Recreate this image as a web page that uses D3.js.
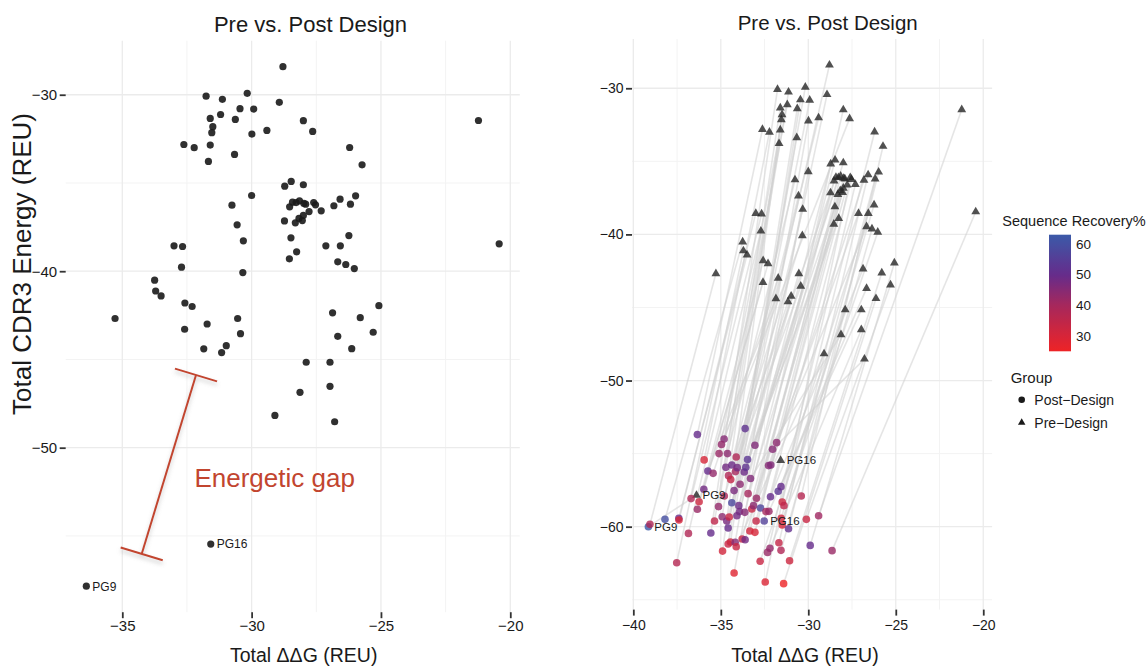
<!DOCTYPE html>
<html>
<head>
<meta charset="utf-8">
<script src="https://cdn.jsdelivr.net/npm/d3@7"></script>
<style>
  html, body { margin: 0; padding: 0; background: #fff; }
  svg { display: block; }
  text { font-family: "Liberation Sans", Arial, Helvetica, sans-serif; fill: #1a1a1a; }
</style>
</head>
<body>
<svg id="chart" width="1148" height="671"></svg>
<script>
// ---- Data -----------------------------------------------------------------
// Pre-design models: total ΔΔG and total CDR3 energy (REU)
const preDDG = [
  -36.39, -35.28, -33.75, -33.71, -33.50, -33.00, -32.71, -32.67, -32.62, -32.59,
  -32.58, -32.30, -32.22, -31.85, -31.76, -31.72, -31.67, -31.60, -31.60, -31.58,
  -31.54, -31.50, -31.20, -31.16, -31.13, -30.98, -30.76, -30.66, -30.63, -30.56,
  -30.54, -30.45, -30.43, -30.34, -30.32, -30.17, -30.00, -29.99, -29.92, -29.41,
  -29.10, -28.93, -28.79, -28.73, -28.72, -28.54, -28.53, -28.48, -28.47, -28.42,
  -28.31, -28.28, -28.26, -28.17, -28.15, -28.13, -28.04, -28.00, -28.00, -28.00,
  -27.98, -27.91, -27.89, -27.78, -27.64, -27.60, -27.53, -27.31, -27.13, -26.97,
  -26.97, -26.87, -26.82, -26.79, -26.67, -26.67, -26.58, -26.57, -26.36, -26.24,
  -26.21, -26.18, -26.13, -26.03, -25.98, -25.80, -25.73, -25.30, -25.08, -21.23,
  -20.43
];
const preCDR3 = [
  -57.85, -42.68, -40.51, -41.12, -41.40, -38.56, -39.77, -38.60, -32.82, -43.29,
  -41.80, -42.00, -33.00, -44.40, -30.08, -42.99, -33.78, -31.34, -32.85, -55.46,
  -32.15, -31.81, -31.12, -44.61, -30.26, -44.22, -36.26, -33.38, -31.40, -37.37,
  -42.68, -30.79, -43.54, -40.08, -38.28, -29.92, -35.71, -32.23, -30.81, -32.02,
  -48.17, -30.43, -28.41, -37.15, -35.18, -39.30, -36.35, -38.11, -34.91, -36.09,
  -37.26, -36.11, -38.90, -37.01, -36.01, -46.86, -37.13, -31.47, -35.10, -36.84,
  -36.16, -36.20, -45.16, -36.62, -32.08, -36.11, -36.24, -36.58, -38.56, -45.16,
  -46.52, -42.36, -36.29, -48.53, -39.47, -43.69, -35.92, -38.56, -39.62, -37.98,
  -32.99, -36.20, -44.39, -39.85, -35.73, -42.63, -33.97, -43.46, -41.95, -31.46,
  -38.45
];
// Post-design models, in the same order as the pre-design arrays
const postDDG = [
  -39.14, -39.05, -38.19, -37.52, -37.40, -37.39, -36.85, -36.70, -36.34, -36.34,
  -36.24, -35.97, -35.95, -35.74, -35.57, -35.44, -35.36, -35.13, -35.10, -32.52,
  -34.92, -34.90, -34.81, -34.80, -34.71, -34.66, -34.62, -34.58, -34.58, -34.56,
  -34.52, -34.45, -34.43, -34.37, -34.37, -34.24, -34.24, -34.18, -34.16, -34.12,
  -34.12, -34.08, -34.06, -33.97, -33.93, -33.90, -33.78, -33.66, -33.63, -33.61,
  -33.61, -33.57, -33.47, -33.44, -33.34, -33.30, -33.23, -33.13, -33.05, -33.05,
  -32.98, -32.96, -32.75, -32.73, -34.96, -32.46, -32.42, -32.33, -32.27, -32.25,
  -32.19, -32.16, -32.14, -32.04, -31.81, -31.72, -31.68, -31.56, -31.56, -31.55,
  -31.49, -31.49, -31.41, -31.39, -31.13, -31.07, -30.40, -30.11, -29.89, -29.41,
  -28.64
];
const postCDR3 = [
  -60.00, -59.84, -59.50, -62.47, -59.43, -59.54, -60.46, -58.08, -53.70, -58.81,
  -58.29, -57.44, -55.43, -56.19, -60.43, -56.35, -59.61, -58.63, -55.00, -59.61,
  -59.32, -61.67, -54.00, -57.90, -55.94, -59.61, -55.00, -60.09, -61.19, -56.51,
  -59.34, -61.05, -56.78, -55.78, -58.36, -57.53, -63.17, -61.07, -56.23, -55.23,
  -61.37, -59.25, -55.96, -58.56, -58.97, -57.10, -60.84, -56.26, -59.02, -53.29,
  -60.89, -55.94, -55.41, -57.74, -60.30, -56.70, -58.79, -58.56, -54.43, -60.39,
  -59.61, -58.06, -62.37, -58.72, -54.38, -63.79, -58.97, -61.76, -55.82, -58.95,
  -61.48, -57.95, -55.78, -54.70, -54.25, -57.58, -61.10, -57.26, -61.62, -59.43,
  -58.31, -59.89, -63.90, -58.56, -60.14, -62.33, -57.90, -59.50, -61.28, -59.25,
  -61.64
];
// Sequence recovery (%) of each post-design model
const postRecovery = [
  63, 38, 60, 37, 50, 30, 38, 38, 50, 42,
  32, 48, 30, 50, 50, 43, 35, 43, 42, 56,
  44, 31, 45, 39, 48, 47, 44, 50, 33, 38,
  33, 32, 34, 49, 58, 47, 28, 45, 40, 38,
  33, 48, 48, 49, 48, 44, 33, 49, 45, 52,
  48, 52, 53, 40, 31, 46, 33, 44, 46, 30,
  34, 42, 33, 57, 43, 29, 40, 42, 45, 42,
  43, 50, 46, 45, 44, 53, 34, 50, 38, 31,
  32, 30, 25, 35, 51, 32, 37, 33, 50, 41,
  42
];
// Named reference antibodies (blank for the rest)
const designLabels = new Array(preDDG.length).fill("");
designLabels[0] = "PG9";
designLabels[19] = "PG16";

// Axis breaks
const leftXTicks = [-35, -30, -25, -20];
const leftYTicks = [-30, -40, -50];
const rightXTicks = [-40, -35, -30, -25, -20];
const rightYTicks = [-30, -40, -50, -60];
const recoveryTicks = [30, 40, 50, 60];
const groupNames = ["Post\u2212Design", "Pre\u2212Design"];

// Colour ramp for sequence recovery: stop values and colours
const rampStops = [25, 40, 50, 63];
const rampColors = ["#ee2326", "#a6285c", "#652c8b", "#3b5aa8"];

// Energetic gap bracket ends, in the left panel's data units
const gapTop = [-32.15, -45.88];
const gapBottom = [-34.25, -56.02];
const gapLabelAt = [-32.21, -52.21];

// ---- Layout ---------------------------------------------------------------
const svg = d3.select("#chart");
const FONT = '"Liberation Sans", Arial, Helvetica, sans-serif';
const L = { x0: 65.7, x1: 519.8, y0: 40.7, y1: 612.2 };
const R = { x0: 632.0, x1: 992.1, y0: 39.1, y1: 609.6 };

function padded(ext) {
  const s = ext[1] - ext[0];
  return [ext[0] - 0.05 * s, ext[1] + 0.05 * s];
}
const xL = d3.scaleLinear().domain(padded(d3.extent(preDDG))).range([L.x0, L.x1]);
const yL = d3.scaleLinear().domain(padded(d3.extent(preCDR3))).range([L.y1, L.y0]);
const xR = d3.scaleLinear().domain(padded(d3.extent(preDDG.concat(postDDG)))).range([R.x0, R.x1]);
const yR = d3.scaleLinear().domain(padded(d3.extent(preCDR3.concat(postCDR3)))).range([R.y1, R.y0]);

const recExt = d3.extent(postRecovery);
const color = d3.scaleLinear().domain(rampStops).range(rampColors).interpolate(d3.interpolateRgb).clamp(true);

const fmt = d3.format("d");

function minorBreaks(major, scale) {
  const step = Math.abs(major[1] - major[0]);
  const lo = d3.min(major) - step, hi = d3.max(major) + step;
  const dom = scale.domain(), dmin = Math.min(...dom), dmax = Math.max(...dom);
  const out = [];
  for (let v = lo + step / 2; v < hi; v += step) if (v > dmin && v < dmax) out.push(v);
  return out;
}

function drawGrid(box, xs, ys, xMajor, yMajor) {
  const g = svg.append("g");
  const xMinor = minorBreaks(xMajor, xs), yMinor = minorBreaks(yMajor, ys);
  g.selectAll(".vmin").data(xMinor).join("line")
    .attr("x1", d => xs(d)).attr("x2", d => xs(d)).attr("y1", box.y0).attr("y2", box.y1)
    .attr("stroke", "#f3f3f3").attr("stroke-width", 1);
  g.selectAll(".hmin").data(yMinor).join("line")
    .attr("y1", d => ys(d)).attr("y2", d => ys(d)).attr("x1", box.x0).attr("x2", box.x1)
    .attr("stroke", "#f3f3f3").attr("stroke-width", 1);
  g.selectAll(".vmaj").data(xMajor).join("line")
    .attr("x1", d => xs(d)).attr("x2", d => xs(d)).attr("y1", box.y0).attr("y2", box.y1)
    .attr("stroke", "#ebebeb").attr("stroke-width", 1.3);
  g.selectAll(".hmaj").data(yMajor).join("line")
    .attr("y1", d => ys(d)).attr("y2", d => ys(d)).attr("x1", box.x0).attr("x2", box.x1)
    .attr("stroke", "#ebebeb").attr("stroke-width", 1.3);
}

function drawAxes(box, xs, ys, xTicks, yTicks, fontSize, pad) {
  const gx = svg.append("g").attr("transform", `translate(0,${box.y1})`)
    .call(d3.axisBottom(xs).tickValues(xTicks).tickFormat(fmt).tickSize(6).tickPadding(pad));
  const gy = svg.append("g").attr("transform", `translate(${box.x0},0)`)
    .call(d3.axisLeft(ys).tickValues(yTicks).tickFormat(fmt).tickSize(6).tickPadding(2.5));
  [gx, gy].forEach(g => {
    g.select(".domain").remove();
    g.selectAll(".tick line").attr("stroke", "#333").attr("stroke-width", 1.8);
    g.selectAll(".tick text").attr("fill", "#1a1a1a").style("font-family", FONT).style("font-size", fontSize + "px");
  });
}

// ---- Left panel: pre-design models ---------------------------------------
drawGrid(L, xL, yL, leftXTicks, leftYTicks);
drawAxes(L, xL, yL, leftXTicks, leftYTicks, 15, 2.5);

const preIdx = d3.range(preDDG.length);
svg.append("g").selectAll("circle").data(preIdx).join("circle")
  .attr("cx", i => xL(preDDG[i])).attr("cy", i => yL(preCDR3[i])).attr("r", 3.6)
  .attr("fill", "#1a1a1a").attr("fill-opacity", 0.9);

svg.append("g").selectAll("text").data(preIdx.filter(i => designLabels[i])).join("text")
  .attr("x", i => xL(preDDG[i]) + 6).attr("y", i => yL(preCDR3[i])).attr("dy", "0.36em")
  .style("font-size", "12px").text(i => designLabels[i]);

// Energetic gap bracket
const defs = svg.append("defs");
const shadow = defs.append("filter").attr("id", "soft").attr("x", "-20%").attr("y", "-20%").attr("width", "140%").attr("height", "160%");
shadow.append("feDropShadow").attr("dx", 0).attr("dy", 3).attr("stdDeviation", 2)
  .attr("flood-color", "#888").attr("flood-opacity", 0.45);

const gp1 = [xL(gapTop[0]), yL(gapTop[1])], gp2 = [xL(gapBottom[0]), yL(gapBottom[1])];
const gdx = gp2[0] - gp1[0], gdy = gp2[1] - gp1[1], glen = Math.hypot(gdx, gdy);
const nx = -gdy / glen, ny = gdx / glen, cap = 22;
const bracket = svg.append("g").attr("stroke", "#c2452f").attr("stroke-width", 2).attr("filter", "url(#soft)");
bracket.append("line").attr("x1", gp1[0]).attr("y1", gp1[1]).attr("x2", gp2[0]).attr("y2", gp2[1]);
[gp1, gp2].forEach(p => {
  bracket.append("line")
    .attr("x1", p[0] - nx * cap).attr("y1", p[1] - ny * cap)
    .attr("x2", p[0] + nx * cap).attr("y2", p[1] + ny * cap);
});
svg.append("text").attr("x", xL(gapLabelAt[0])).attr("y", yL(gapLabelAt[1]))
  .style("font-size", "26px").style("fill", "#c2452f").text("Energetic gap");

// Titles and axis labels
svg.append("text").attr("x", 310.5).attr("y", 31.7).attr("text-anchor", "middle")
  .style("font-size", "22px").text("Pre vs. Post Design");
svg.append("text").attr("x", 303.7).attr("y", 661.7).attr("text-anchor", "middle")
  .style("font-size", "19.5px").text("Total \u0394\u0394G (REU)");
svg.append("text").attr("transform", "translate(31,264) rotate(-90)").attr("text-anchor", "middle")
  .style("font-size", "26px").text("Total CDR3 Energy (REU)");

// ---- Right panel: pre vs post with sequence recovery ------------------------
drawGrid(R, xR, yR, rightXTicks, rightYTicks);
drawAxes(R, xR, yR, rightXTicks, rightYTicks, 14, 4);

svg.append("g").selectAll("line").data(preIdx).join("line")
  .attr("x1", i => xR(preDDG[i])).attr("y1", i => yR(preCDR3[i]))
  .attr("x2", i => xR(postDDG[i])).attr("y2", i => yR(postCDR3[i]))
  .attr("stroke", "#cfcfcf").attr("stroke-opacity", 0.55).attr("stroke-width", 1.6);

const tri = d3.symbol(d3.symbolTriangle, 34);
svg.append("g").selectAll("path").data(preIdx).join("path")
  .attr("transform", i => `translate(${xR(preDDG[i])},${yR(preCDR3[i])})`)
  .attr("d", tri).attr("fill", "#262626").attr("fill-opacity", 0.8);

svg.append("g").selectAll("circle").data(preIdx).join("circle")
  .attr("cx", i => xR(postDDG[i])).attr("cy", i => yR(postCDR3[i])).attr("r", 3.8)
  .attr("fill", i => color(postRecovery[i])).attr("fill-opacity", 0.8);

const named = preIdx.filter(i => designLabels[i]);
svg.append("g").selectAll("text").data(named).join("text")
  .attr("x", i => xR(preDDG[i]) + 6).attr("y", i => yR(preCDR3[i])).attr("dy", "0.36em")
  .style("font-size", "11.5px").text(i => designLabels[i]);
svg.append("g").selectAll("text").data(named).join("text")
  .attr("x", i => xR(postDDG[i]) + 6).attr("y", i => yR(postCDR3[i])).attr("dy", "0.36em")
  .style("font-size", "11.5px").text(i => designLabels[i]);

svg.append("text").attr("x", 827.7).attr("y", 29.5).attr("text-anchor", "middle")
  .style("font-size", "20.5px").text("Pre vs. Post Design");
svg.append("text").attr("x", 805).attr("y", 662).attr("text-anchor", "middle")
  .style("font-size", "19.5px").text("Total \u0394\u0394G (REU)");

// ---- Legends ----------------------------------------------------------------
svg.append("text").attr("x", 1002.3).attr("y", 226).style("font-size", "14.5px").text("Sequence Recovery%");

const bar = { x: 1049, w: 22, y0: 234.7, y1: 351.3 };
const yC = d3.scaleLinear().domain(recExt).range([bar.y1, bar.y0]);
const grad = defs.append("linearGradient").attr("id", "recGrad")
  .attr("x1", 0).attr("y1", 1).attr("x2", 0).attr("y2", 0);
d3.range(0, 1.0001, 0.05).forEach(t => {
  grad.append("stop").attr("offset", t)
    .attr("stop-color", color(recExt[0] + t * (recExt[1] - recExt[0])));
});
svg.append("rect").attr("x", bar.x).attr("y", bar.y0).attr("width", bar.w).attr("height", bar.y1 - bar.y0)
  .attr("fill", "url(#recGrad)");
svg.append("g").selectAll("text").data(recoveryTicks).join("text")
  .attr("x", bar.x + bar.w + 5).attr("y", d => yC(d)).attr("dy", "0.36em")
  .style("font-size", "13.5px").text(d => d);

svg.append("text").attr("x", 1010.7).attr("y", 382.7).style("font-size", "15px").text("Group");
const legG = svg.append("g");
legG.append("circle").attr("cx", 1021.7).attr("cy", 399.8).attr("r", 3.3).attr("fill", "#1a1a1a");
legG.append("path").attr("transform", "translate(1021.7,422.5)").attr("d", d3.symbol(d3.symbolTriangle, 24)).attr("fill", "#1a1a1a");
legG.selectAll("text").data(groupNames).join("text")
  .attr("x", 1034.3).attr("y", (d, i) => 399.8 + i * 22.7).attr("dy", "0.36em")
  .style("font-size", "14px").text(d => d);
</script>
</body>
</html>
